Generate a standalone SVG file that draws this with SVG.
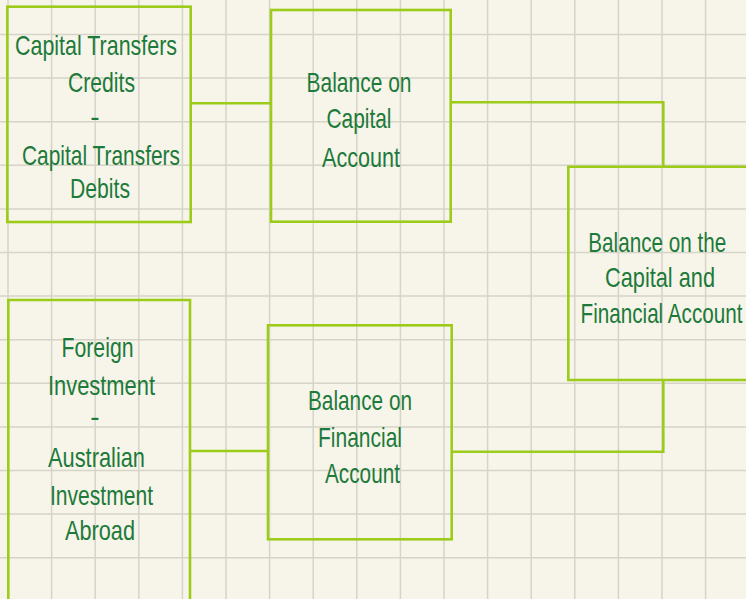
<svg xmlns="http://www.w3.org/2000/svg" width="746" height="599" viewBox="0 0 746 599">
  <style>
    .grid { stroke: #d6d4c7; stroke-width: 1.5; fill: none; }
    .box { fill: none; stroke: #9ccb1a; stroke-width: 2.6; }
    .link { fill: none; stroke: #9ccb1a; stroke-width: 2.6; }
    .lbl { font-family: "Liberation Sans Narrow", "Liberation Sans", "DejaVu Sans Condensed", sans-serif; font-size: 28px; fill: #1d7a3a; text-anchor: middle; }
  </style>

  <!-- paper -->
  <rect x="0" y="0" width="746" height="599" fill="#f7f5ea"/>
  <path class="grid" d="
    M8 0V599 M51.6 0V599 M95.2 0V599 M138.8 0V599 M182.4 0V599 M226 0V599
    M269.6 0V599 M313.2 0V599 M356.8 0V599 M400.4 0V599 M444 0V599 M487.6 0V599
    M531.2 0V599 M574.8 0V599 M618.4 0V599 M662 0V599 M705.6 0V599
    M0 34.5H746 M0 78.1H746 M0 121.7H746 M0 165.3H746 M0 208.9H746 M0 252.5H746
    M0 296.1H746 M0 339.7H746 M0 383.3H746 M0 426.9H746 M0 470.5H746 M0 514.1H746
    M0 557.7H746"/>

  <!-- connectors -->
  <g id="connectors">
    <path class="link" d="M191 103.3H271"/>
    <path class="link" d="M451 102.3H663.3V167"/>
    <path class="link" d="M190 451H268"/>
    <path class="link" d="M452 451.7H663.3V380"/>
  </g>

  <g id="capital-transfers">
    <rect class="box" x="7.3" y="6.7" width="183.4" height="215.3"/>
    <text class="lbl" x="96" y="55" textLength="162" lengthAdjust="spacingAndGlyphs">Capital Transfers</text>
    <text class="lbl" x="101.5" y="92" textLength="67" lengthAdjust="spacingAndGlyphs">Credits</text>
    <text class="lbl" x="95" y="126">-</text>
    <text class="lbl" x="101" y="165" textLength="158" lengthAdjust="spacingAndGlyphs">Capital Transfers</text>
    <text class="lbl" x="100" y="198" textLength="60" lengthAdjust="spacingAndGlyphs">Debits</text>
  </g>

  <g id="balance-capital">
    <rect class="box" x="271" y="10" width="179.7" height="211.7"/>
    <text class="lbl" x="359" y="92" textLength="105" lengthAdjust="spacingAndGlyphs">Balance on</text>
    <text class="lbl" x="359" y="128" textLength="65" lengthAdjust="spacingAndGlyphs">Capital</text>
    <text class="lbl" x="361" y="166.5" textLength="78" lengthAdjust="spacingAndGlyphs">Account</text>
  </g>

  <!-- the right side of this box runs past the page edge; its labels are narrowed by a horizontal scale -->
  <g id="balance-capital-financial">
    <path class="box" d="M747.5 166.7H568.3V380H747.5"/>
    <text class="lbl" transform="translate(657.3 251.7) scale(0.735 1)" textLength="187.8" lengthAdjust="spacingAndGlyphs">Balance on the</text>
    <text class="lbl" transform="translate(660 286.7) scale(0.735 1)" textLength="149.7" lengthAdjust="spacingAndGlyphs">Capital and</text>
    <text class="lbl" transform="translate(661.5 323.3) scale(0.735 1)" textLength="220.4" lengthAdjust="spacingAndGlyphs">Financial Account</text>
  </g>

  <!-- the bottom of this box runs past the page edge -->
  <g id="investment">
    <path class="box" d="M8.3 600.5V300H190V600.5"/>
    <text class="lbl" x="97.5" y="356.7" textLength="72" lengthAdjust="spacingAndGlyphs">Foreign</text>
    <text class="lbl" x="101.5" y="395" textLength="107" lengthAdjust="spacingAndGlyphs">Investment</text>
    <text class="lbl" x="95" y="426">-</text>
    <text class="lbl" x="96.5" y="466.7" textLength="97" lengthAdjust="spacingAndGlyphs">Australian</text>
    <text class="lbl" x="101.5" y="505" textLength="103" lengthAdjust="spacingAndGlyphs">Investment</text>
    <text class="lbl" x="100" y="540" textLength="70" lengthAdjust="spacingAndGlyphs">Abroad</text>
  </g>

  <g id="balance-financial">
    <rect class="box" x="268" y="325.3" width="183.7" height="214"/>
    <text class="lbl" x="360" y="410" textLength="104" lengthAdjust="spacingAndGlyphs">Balance on</text>
    <text class="lbl" x="360" y="446.7" textLength="84" lengthAdjust="spacingAndGlyphs">Financial</text>
    <text class="lbl" x="362.5" y="483.3" textLength="75" lengthAdjust="spacingAndGlyphs">Account</text>
  </g>
</svg>
